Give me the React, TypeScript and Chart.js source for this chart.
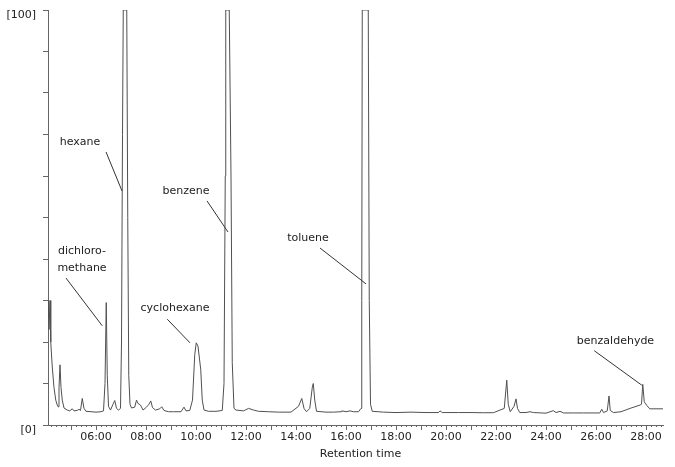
import React, { useEffect, useRef } from "react";
import { Chart, registerables } from "chart.js";

Chart.register(...registerables);

// ---- data (retention time in minutes, relative intensity) ----
const retentionTimes = [
  4.08, 4.1, 4.12, 4.16, 4.19, 4.25, 4.32, 4.39, 4.45, 4.48, 4.52, 4.56, 4.6, 4.65, 4.72, 4.85, 4.95,
  5.05, 5.12, 5.25, 5.32, 5.38, 5.45, 5.52, 5.6, 5.8, 6.0, 6.2, 6.3, 6.36, 6.41, 6.45, 6.5, 6.58,
  6.68, 6.75, 6.82, 6.9, 6.98, 7.02, 7.06, 7.09, 7.23, 7.27, 7.31, 7.36, 7.42, 7.55, 7.62, 7.68,
  7.78, 7.88, 8.0, 8.12, 8.19, 8.26, 8.38, 8.55, 8.63, 8.72, 8.9, 9.1, 9.4, 9.52, 9.6, 9.75, 9.86,
  9.95, 10.01, 10.08, 10.19, 10.25, 10.32, 10.5, 10.8, 11.05, 11.12, 11.17, 11.19, 11.33, 11.4,
  11.45, 11.52, 11.6, 11.9, 12.1, 12.3, 12.5, 12.9, 13.3, 13.8, 14.1, 14.23, 14.32, 14.42, 14.55,
  14.65, 14.69, 14.75, 14.82, 15.2, 15.5, 15.8, 15.83, 16.0, 16.16, 16.3, 16.5, 16.6, 16.63,
  16.65, 16.89, 16.93, 16.98, 17.05, 17.5, 18.0, 18.6, 19.2, 19.7, 19.76, 19.85, 20.5, 21.0,
  21.5, 21.9, 22.33, 22.43, 22.49, 22.57, 22.72, 22.8, 22.86, 22.95, 23.2, 23.36, 23.5, 24.0,
  24.29, 24.4, 24.56, 24.7, 25.1, 25.5, 26.15, 26.23, 26.3, 26.45, 26.52, 26.57, 26.7, 27.0,
  27.36, 27.76, 27.82, 27.87, 27.93, 28.02, 28.15, 28.4, 28.68,
];
const intensity = [
  26, 30, 23, 30, 20, 14, 9, 6, 4.8, 4.4, 9, 14.5, 9, 6, 4.1, 3.6, 3.4,
  3.9, 3.4, 3.5, 3.8, 3.5, 6.4, 4.0, 3.3, 3.2, 3.1, 3.2, 3.4, 10, 29.5, 12, 4.5, 3.6,
  5, 5.9, 4, 3.6, 4, 20, 70, 100, 100, 50, 12, 5, 4.1, 4.3, 6.0, 5.2,
  4.8, 3.6, 4.2, 5, 5.8, 4.2, 3.6, 3.9, 4.4, 3.5, 3.2, 3.2, 3.2, 4.3, 3.4, 3.5, 6,
  17, 19.8, 19, 13.3, 6, 3.6, 3.3, 3.3, 3.5, 10, 60, 100, 100, 60,
  15, 4, 3.6, 3.4, 4.0, 3.6, 3.3, 3.2, 3.1, 3.1, 4.5, 6.4, 4.0, 3.2, 4,
  9, 10, 6, 3.3, 3.1, 3.1, 3.2, 3.4, 3.2, 3.4, 3.2, 3.2, 4, 30,
  100, 100, 30, 5, 3.3, 3.1, 3.0, 3.1, 3.0, 3.0, 3.4, 3.0, 3.0, 3.0,
  2.95, 2.97, 4, 10.8, 5, 3.2, 4.5, 6.3, 4, 3.0, 3.0, 3.2, 3.0, 2.85,
  3.45, 3.0, 3.3, 2.9, 2.9, 2.9, 2.9, 3.8, 3.0, 3.4, 7.0, 3.5, 3.0, 3.2,
  4.0, 4.8, 5, 9.8, 5.6, 4.8, 3.9, 3.9, 3.9,
];
const xTickMinutes = [6, 8, 10, 12, 14, 16, 18, 20, 22, 24, 26, 28];
const yTickValues = [0, 10, 20, 30, 40, 50, 60, 70, 80, 90, 100];
const yTickLabels: Record<number, string> = { 0: "[0]", 100: "[100]" };
const peakNames = ["hexane", "dichloro-|methane", "benzene", "toluene", "cyclohexane", "benzaldehyde"];

// ---- annotation layout (data coordinates) ----
const annotationLayout = [
  { text: [5.36, 68.2], line: [6.4, 65.8, 7.04, 56.4] },
  { text: [5.44, 41.9], line: [4.8, 35.4, 6.25, 23.9] },
  { text: [9.6, 56.4], line: [10.44, 54.0, 11.28, 46.5] },
  { text: [14.48, 45.1], line: [14.96, 42.65, 16.8, 34.0] },
  { text: [9.16, 28.2], line: [8.85, 25.5, 9.76, 19.8] },
  { text: [26.78, 20.3], line: [25.93, 17.9, 27.83, 9.6] },
];

const FONT = "'DejaVu Sans', Verdana, sans-serif";

const fmt = (m: number) => `${String(m).padStart(2, "0")}:00`;

const decorPlugin = {
  id: "decor",
  afterDraw(chart: any) {
    const { ctx, chartArea } = chart;
    const x = chart.scales.x;
    const y = chart.scales.y;
    ctx.save();
    // x-axis minor/minute ticks
    ctx.strokeStyle = "#666";
    ctx.lineWidth = 1;
    ctx.beginPath();
    const start = Math.ceil(x.min * 5);
    const end = Math.floor(x.max * 5);
    for (let i = start; i <= end; i++) {
      const px = Math.round(x.getPixelForValue(i / 5)) + 0.5;
      const len = i % 5 === 0 ? 5 : 2;
      ctx.moveTo(px, chartArea.bottom);
      ctx.lineTo(px, chartArea.bottom + len);
    }
    ctx.stroke();

    // annotations
    ctx.font = `11px ${FONT}`;
    ctx.fillStyle = "#222";
    ctx.textAlign = "center";
    ctx.textBaseline = "middle";
    ctx.strokeStyle = "#333";
    annotationLayout.forEach((a, i) => {
      const lines = peakNames[i].split("|");
      const tx = x.getPixelForValue(a.text[0]);
      const ty = y.getPixelForValue(a.text[1]);
      lines.forEach((l, k) => ctx.fillText(l, tx, ty + k * 17));
      ctx.beginPath();
      ctx.moveTo(x.getPixelForValue(a.line[0]), y.getPixelForValue(a.line[1]));
      ctx.lineTo(x.getPixelForValue(a.line[2]), y.getPixelForValue(a.line[3]));
      ctx.stroke();
    });
    // axis title (centered slightly right, as in reference)
    ctx.fillStyle = "#222";
    ctx.textBaseline = "middle";
    ctx.fillText("Retention time", (chartArea.left + chartArea.right) / 2 + 5, chartArea.bottom + 29);
    ctx.restore();
  },
};

export default function App() {
  const ref = useRef<HTMLCanvasElement | null>(null);
  useEffect(() => {
    document.body.style.margin = "0";
    const canvas = ref.current;
    if (!canvas) return;
    const chart = new Chart(canvas, {
      type: "line",
      data: {
        datasets: [
          {
            data: retentionTimes.map((t, i) => ({ x: t, y: intensity[i] })),
            borderColor: "#505050",
            borderWidth: 1,
            pointRadius: 0,
            tension: 0,
            fill: false,
          },
        ],
      },
      options: {
        animation: false,
        responsive: true,
        maintainAspectRatio: false,
        layout: { padding: { top: 10, right: 12, left: 0, bottom: 0 } },
        plugins: { legend: { display: false }, tooltip: { enabled: false } },
        scales: {
          x: {
            type: "linear",
            min: 4.08,
            max: 28.68,
            afterFit: (s: any) => {
              s.height = 42;
              s.paddingLeft = 0;
              s.paddingRight = 0;
            },
            afterBuildTicks: (s: any) => {
              s.ticks = xTickMinutes.map((v) => ({ value: v }));
            },
            border: { display: true, color: "#666", width: 1 },
            grid: { display: true, drawOnChartArea: false, drawTicks: false },
            ticks: {
              autoSkip: false,
              maxRotation: 0,
              padding: 6,
              color: "#222",
              font: { family: FONT, size: 11 },
              callback: (v: any) => fmt(Number(v)),
            },
          },
          y: {
            min: 0,
            max: 100,
            afterFit: (s: any) => {
              s.width = 48;
              s.paddingTop = 0;
              s.paddingBottom = 0;
            },
            afterBuildTicks: (s: any) => {
              s.ticks = yTickValues.map((v) => ({ value: v }));
            },
            border: { display: true, color: "#666", width: 1 },
            grid: { display: true, drawOnChartArea: false, drawTicks: true, tickLength: 5, tickColor: "#666" },
            ticks: {
              autoSkip: false,
              padding: 7,
              labelOffset: 5,
              color: "#222",
              font: { family: FONT, size: 11 },
              callback: (v: any) => yTickLabels[Number(v)] ?? "",
            },
          },
        },
      },
      plugins: [decorPlugin],
    });
    return () => chart.destroy();
  }, []);
  return (
    <div style={{ width: 675, height: 467, position: "relative" }}>
      <canvas ref={ref} />
    </div>
  );
}
